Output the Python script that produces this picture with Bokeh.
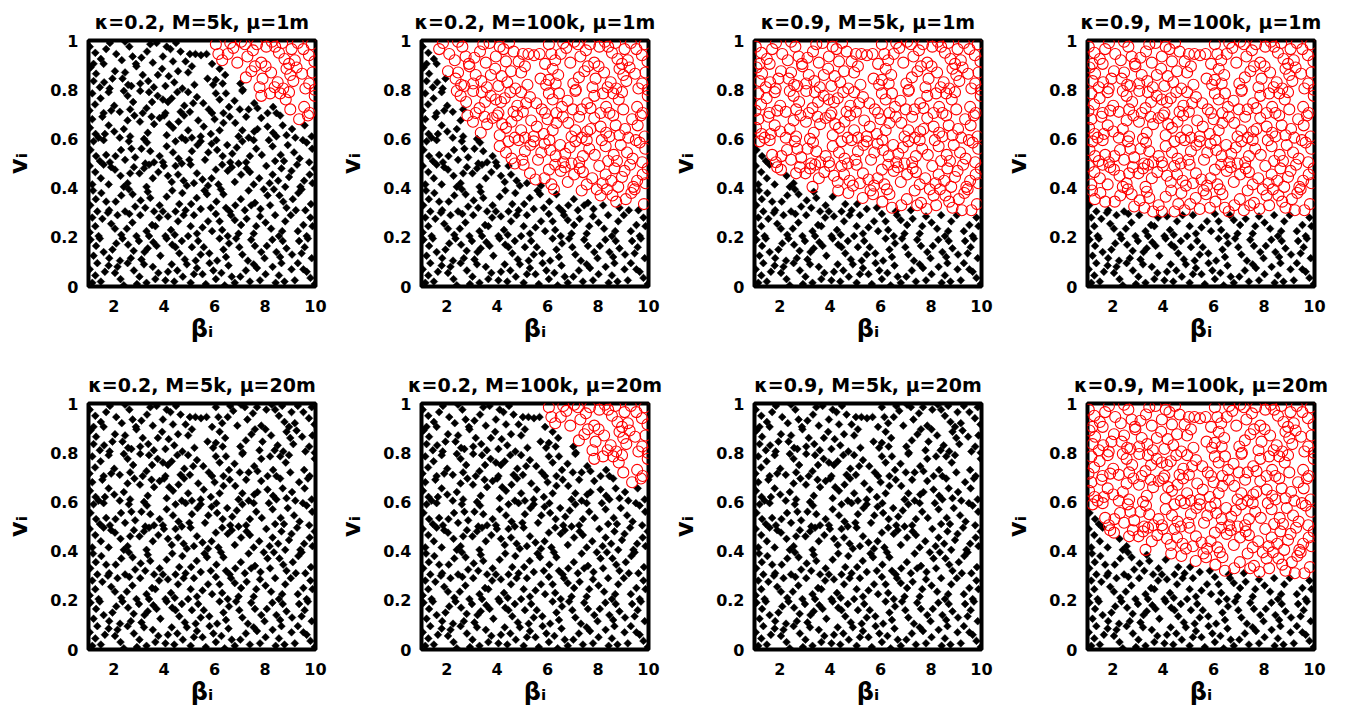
import numpy as np
from bokeh.plotting import figure
from bokeh.layouts import column, row
from bokeh.models import FixedTicker, Range1d
from bokeh.embed import file_html
from bokeh.resources import INLINE

titles = ["κ=0.2, M=5k, μ=1m", "κ=0.2, M=100k, μ=1m", "κ=0.9, M=5k, μ=1m", "κ=0.9, M=100k, μ=1m",
          "κ=0.2, M=5k, μ=20m", "κ=0.2, M=100k, μ=20m", "κ=0.9, M=5k, μ=20m", "κ=0.9, M=100k, μ=20m"]

x_ticks = [2, 4, 6, 8, 10]
y_ticks = [0, 0.2, 0.4, 0.6, 0.8, 1]
y_tick_labels = ["0", "0.2", "0.4", "0.6", "0.8", "1"]

# (beta_i, v_i) samples
band_90 = [(1.05,.975),(1.27,.95),(1.49,.925),(1.85,.99),(2.10,.945),(2.32,.92),(2.62,.975),(2.88,.905),(3.10,.93),(3.32,.955),
           (3.70,.99),(3.95,.935),(4.25,.965),(4.47,.99),(4.85,.915),(5.02,.945),(5.24,.945),(5.46,.94),(5.68,.945),(6.05,.985),
           (6.30,.92),(6.52,.945),(6.74,.97),(7.05,.995),(7.30,.935),(7.52,.96),(7.85,.91),(8.05,.975),(8.27,.995),(8.55,.95),
           (8.77,.925),(9.05,.965),(9.30,.99),(9.52,.965),(9.74,.94),(9.96,.915),(1.60,.905),(2.45,.995),(4.65,.955),(5.90,.905),
           (7.20,.985),(8.95,.905),(6.90,.91),(3.55,.91),(1.20,.905),(1.70,.965),(2.75,.935),(3.45,.985),(4.10,.975),(4.35,.915),
           (6.15,.945),(6.62,.99),(7.68,.985),(8.40,.975),(8.68,.99),(9.18,.92),(9.85,.985)]
band_80 = [(1.08,.89),(1.30,.865),(1.62,.83),(1.84,.805),(2.05,.875),(2.35,.845),(2.57,.82),(2.90,.895),(3.15,.86),(3.37,.835),
           (3.59,.81),(3.92,.885),(4.18,.855),(4.40,.83),(4.72,.805),(4.95,.87),(5.20,.82),(5.72,.845),(5.94,.82),(6.20,.885),
           (6.42,.86),(7.02,.825),(7.24,.85),(7.46,.875),(7.78,.81),(8.02,.895),(8.24,.87),(8.50,.83),(8.72,.805),(9.00,.86),
           (9.25,.89),(9.47,.865),(9.75,.825),(9.97,.80),(1.45,.81),(2.70,.815),(4.05,.815),(5.10,.895),(6.05,.84),(7.60,.895),
           (8.85,.885),(9.60,.805),(1.20,.835),(1.95,.845),(2.45,.87),(3.05,.825),(3.75,.86),(4.55,.875),(6.32,.825),(7.12,.80),
           (7.90,.845),(8.38,.81),(9.12,.835),(9.88,.87)]
band_70 = [(1.04,.715),(1.26,.74),(1.48,.765),(1.80,.79),(2.02,.735),(2.24,.71),(2.55,.775),(2.77,.75),(3.05,.795),(3.30,.725),
           (3.52,.75),(3.74,.775),(4.05,.705),(4.30,.765),(4.52,.79),(4.80,.735),(5.02,.71),(5.30,.77),(5.55,.745),(5.77,.72),
           (6.05,.785),(6.35,.705),(6.57,.73),(6.79,.755),(7.10,.795),(7.35,.72),(7.57,.745),(7.85,.775),(8.10,.705),(8.32,.73),
           (8.60,.785),(8.82,.76),(9.55,.73),(9.77,.705),(9.97,.775),(1.60,.705),(2.40,.795),(3.15,.705),(4.15,.75),(4.95,.79),
           (6.20,.76),(7.00,.72),(8.45,.705),(9.00,.72),(1.15,.785),(1.90,.715),(2.65,.72),(3.40,.79),(3.95,.76),(4.65,.71),
           (5.15,.745),(5.90,.705),(6.45,.785),(7.70,.725),(8.20,.785),(8.95,.79)]
band_60 = [(1.06,.645),(1.28,.62),(1.55,.69),(1.80,.655),(2.02,.63),(2.24,.605),(2.55,.675),(2.82,.695),(3.04,.67),(3.35,.625),
           (3.60,.66),(3.82,.685),(4.10,.615),(4.35,.645),(4.57,.67),(4.79,.695),(5.10,.605),(5.35,.675),(5.57,.65),(5.85,.62),
           (6.07,.595),(6.35,.665),(6.60,.69),(6.82,.665),(7.10,.635),(7.35,.605),(7.57,.63),(7.85,.685),(8.10,.65),(8.32,.625),
           (8.60,.695),(8.85,.615),(9.07,.64),(9.35,.68),(9.57,.655),(9.85,.61),(1.40,.605),(2.40,.64),(3.20,.60),(4.00,.695),
           (4.95,.635),(6.20,.635),(7.25,.69),(8.45,.61),(9.70,.695),(1.15,.68),(1.65,.62),(2.65,.61),(3.50,.69),(4.20,.66),
           (4.70,.605),(5.45,.61),(6.00,.68),(6.95,.61),(7.70,.64),(8.70,.655),(9.20,.605)]
band_50 = [(1.08,.555),(1.30,.53),(1.60,.595),(1.85,.505),(2.07,.53),(2.29,.555),(2.60,.59),(2.85,.525),(3.10,.56),(3.32,.585),
           (3.60,.505),(3.82,.53),(4.10,.57),(4.35,.545),(4.57,.52),(4.85,.595),(5.10,.55),(5.32,.575),(5.62,.515),(5.88,.58),
           (6.10,.555),(6.32,.53),(6.62,.505),(6.88,.565),(7.10,.59),(7.40,.53),(7.65,.56),(7.87,.535),(8.15,.595),(8.40,.51),
           (8.62,.535),(8.90,.575),(9.15,.545),(9.37,.52),(9.65,.585),(9.87,.56),(1.45,.51),(2.45,.515),(3.45,.55),(4.70,.50),
           (5.45,.59),(6.50,.575),(7.25,.505),(8.30,.57),(9.50,.595),(1.20,.59),(1.70,.535),(2.70,.56),(3.25,.50),(3.95,.505),
           (4.45,.59),(5.00,.515),(5.75,.545),(6.70,.54),(7.55,.595),(8.75,.51),(9.75,.505)]
band_40 = [(1.05,.49),(1.27,.465),(1.49,.44),(1.80,.415),(2.05,.475),(2.27,.45),(2.55,.42),(2.80,.485),(3.02,.46),(3.30,.405),
           (3.55,.44),(3.77,.465),(3.99,.49),(4.30,.425),(4.55,.455),(4.77,.43),(5.05,.495),(5.30,.46),(5.52,.435),(5.74,.41),
           (6.05,.475),(6.30,.495),(6.52,.47),(6.80,.425),(7.05,.455),(7.27,.48),(7.55,.415),(7.77,.44),(8.05,.49),(8.30,.455),
           (8.52,.43),(8.80,.405),(9.05,.47),(9.27,.495),(9.55,.43),(9.77,.455),(9.97,.48),(1.60,.495),(2.40,.405),(3.20,.48),
           (4.15,.45),(4.90,.41),(6.15,.415),(6.95,.50),(8.65,.48),(9.40,.405),(1.15,.415),(1.90,.485),(2.65,.46),(3.40,.495),
           (4.45,.49),(5.18,.42),(5.88,.44),(6.68,.485),(7.40,.465),(8.18,.42),(8.95,.445),(9.88,.42)]
band_30 = [(1.07,.33),(1.29,.355),(1.51,.38),(1.82,.31),(2.08,.345),(2.30,.37),(2.60,.395),(2.85,.325),(3.07,.35),(3.35,.385),
           (3.60,.305),(3.82,.33),(4.10,.365),(4.32,.39),(4.60,.335),(4.85,.31),(5.07,.335),(5.29,.36),(5.60,.39),(5.85,.32),
           (6.07,.345),(6.35,.375),(6.60,.305),(6.82,.33),(7.04,.355),(7.35,.39),(7.60,.34),(7.82,.315),(8.10,.37),(8.35,.395),
           (8.57,.37),(8.85,.32),(9.10,.355),(9.32,.38),(9.60,.31),(9.82,.335),(1.35,.305),(2.45,.305),(3.45,.36),(4.45,.305),
           (5.45,.315),(6.25,.395),(7.20,.31),(8.20,.33),(9.45,.395),(1.18,.39),(1.70,.345),(2.75,.375),(3.25,.32),(3.95,.305),
           (4.72,.38),(5.70,.375),(6.45,.32),(7.45,.33),(7.95,.395),(8.72,.345),(9.22,.31)]
band_20 = [(1.05,.22),(1.27,.245),(1.55,.275),(1.77,.30),(2.05,.235),(2.30,.21),(2.52,.235),(2.74,.26),(3.05,.29),(3.30,.225),
           (3.52,.25),(3.80,.28),(4.05,.205),(4.27,.23),(4.55,.265),(4.77,.29),(5.05,.245),(5.30,.215),(5.52,.24),(5.74,.265),
           (6.05,.295),(6.30,.23),(6.52,.205),(6.80,.27),(7.05,.25),(7.27,.275),(7.55,.215),(7.80,.285),(8.02,.26),(8.24,.235),
           (8.55,.205),(8.80,.265),(9.02,.29),(9.30,.225),(9.52,.25),(9.80,.28),(1.40,.205),(2.15,.29),(2.90,.205),(4.15,.285),
           (4.95,.205),(6.20,.265),(6.95,.215),(8.40,.29),(9.65,.205),(1.15,.28),(1.90,.255),(2.62,.295),(3.40,.205),(3.65,.245),
           (4.42,.21),(5.18,.29),(5.90,.225),(6.65,.29),(7.65,.245),(8.68,.225),(9.88,.245)]
band_10 = [(1.08,.19),(1.30,.165),(1.60,.14),(1.82,.115),(2.10,.175),(2.35,.195),(2.57,.17),(2.79,.145),(3.10,.11),(3.35,.155),
           (3.57,.18),(3.85,.125),(4.10,.195),(4.32,.17),(4.60,.135),(4.82,.11),(5.10,.16),(5.35,.185),(5.57,.16),(5.79,.135),
           (6.10,.105),(6.35,.15),(6.57,.175),(6.85,.195),(7.10,.13),(7.32,.105),(7.60,.165),(7.85,.14),(8.07,.165),(8.29,.19),
           (8.60,.12),(8.85,.155),(9.07,.13),(9.35,.185),(9.57,.16),(9.85,.115),(1.45,.195),(2.25,.105),(3.00,.185),(4.45,.16),
           (5.25,.105),(6.20,.195),(7.45,.19),(8.45,.14),(9.70,.195),(1.20,.125),(1.95,.15),(2.68,.115),(3.22,.14),(3.70,.165),
           (4.70,.185),(5.45,.13),(6.45,.12),(6.98,.16),(7.98,.115),(8.70,.185),(9.45,.135)]
band_00 = [(1.05,.07),(1.27,.045),(1.49,.02),(1.80,.085),(2.05,.055),(2.27,.03),(2.55,.095),(2.80,.065),(3.02,.04),(3.30,.015),
           (3.55,.08),(3.77,.055),(4.05,.025),(4.30,.09),(4.52,.065),(4.74,.04),(5.05,.015),(5.30,.075),(5.52,.05),(5.80,.095),
           (6.05,.03),(6.27,.055),(6.55,.085),(6.80,.015),(7.02,.04),(7.24,.065),(7.55,.09),(7.80,.025),(8.02,.05),(8.30,.08),
           (8.55,.045),(8.77,.02),(9.05,.07),(9.30,.095),(9.52,.07),(9.80,.035),(9.97,.01),(1.35,.095),(2.40,.005),(3.20,.09),
           (4.15,.06),(4.90,.09),(5.65,.01),(6.40,.005),(7.40,.02),(8.65,.095),(9.65,.06),(1.15,.015),(1.65,.06),(2.15,.08),
           (2.92,.01),(3.65,.03),(4.40,.02),(5.18,.05),(5.95,.065),(6.68,.04),(7.68,.075),(8.42,.015),(9.18,.025)]

samples = band_90 + band_80 + band_70 + band_60 + band_50 + band_40 + band_30 + band_20 + band_10 + band_00
beta_i = np.array([s[0] for s in samples])
v_i = np.array([s[1] for s in samples])

# boundary above which points are drawn as red circles
bound_a = ([1, 5.5, 6.5, 7.5, 8.5, 9.5, 10], [1.01, 1.0, 0.88, 0.79, 0.72, 0.67, 0.65])
bound_b = ([1, 1.5, 2, 2.5, 3, 4, 5, 6, 7, 8, 9, 10], [1.01, 1.0, 0.88, 0.75, 0.66, 0.53, 0.45, 0.40, 0.37, 0.35, 0.34, 0.33])
bound_c = ([1, 1.5, 2, 3, 4, 5, 6, 7, 8, 9, 10], [0.60, 0.52, 0.47, 0.41, 0.37, 0.34, 0.32, 0.31, 0.31, 0.31, 0.30])
bound_d = ([1, 2, 4, 6, 8, 10], [0.34, 0.32, 0.30, 0.30, 0.30, 0.29])
bound_none = ([1, 10], [1.1, 1.1])
panel_bounds = [bound_a, bound_b, bound_c, bound_d, bound_none, bound_a, bound_none, bound_c]

FONT = "DejaVu Sans"


def make_panel(idx, top_row):
    bb, bv = panel_bounds[idx]
    thr = np.interp(beta_i, bb, bv)
    red = v_i > thr
    p = figure(width=333, height=363 if top_row else 350,
               x_range=Range1d(1, 10), y_range=Range1d(0, 1),
               output_backend="svg", toolbar_location=None, title=titles[idx],
               min_border_left=88, min_border_right=18, min_border_top=40,
               min_border_bottom=77 if top_row else 64)
    p.title.text_font = FONT
    p.title.text_font_size = "19px"
    p.title.text_font_style = "bold"
    p.title.text_color = "black"
    p.title.align = "center"
    p.title.standoff = 15
    p.grid.visible = False
    p.outline_line_color = "black"
    p.outline_line_width = 4
    p.outline_line_alpha = 1.0
    p.background_fill_color = "white"
    p.border_fill_color = "white"

    p.scatter(beta_i[~red], v_i[~red], marker="square", angle=np.pi / 4, size=5.5,
              fill_color="black", line_color="black", line_width=0.5)
    p.scatter(beta_i[red], v_i[red], marker="circle", size=11, fill_color=None,
              line_color="red", line_width=1.1)

    for ax in (p.xaxis[0], p.yaxis[0]):
        ax.axis_line_color = None
        ax.major_tick_line_color = None
        ax.minor_tick_line_color = None
        ax.major_label_text_font = FONT
        ax.major_label_text_font_size = "16px"
        ax.major_label_text_font_style = "bold"
        ax.major_label_text_color = "black"
        ax.axis_label_text_font = FONT
        ax.axis_label_text_font_style = "bold"
        ax.axis_label_text_color = "black"
        ax.axis_label_text_font_size = "24px"
    p.xaxis.major_label_standoff = 7
    p.yaxis.major_label_standoff = 4
    p.xaxis.ticker = FixedTicker(ticks=x_ticks)
    p.yaxis.ticker = FixedTicker(ticks=y_ticks)
    p.yaxis.major_label_overrides = {t: s for t, s in zip(y_ticks, y_tick_labels)}
    p.xaxis.axis_label = "βᵢ"
    p.yaxis.axis_label = "vᵢ"
    p.xaxis.axis_label_standoff = 0
    p.yaxis.axis_label_standoff = 14
    return p


top = row([make_panel(i, True) for i in range(4)], spacing=0)
bottom = row([make_panel(i, False) for i in range(4, 8)], spacing=0)
layout = column([top, bottom], spacing=0)

open("out.html", "w").write(file_html(layout, INLINE))
